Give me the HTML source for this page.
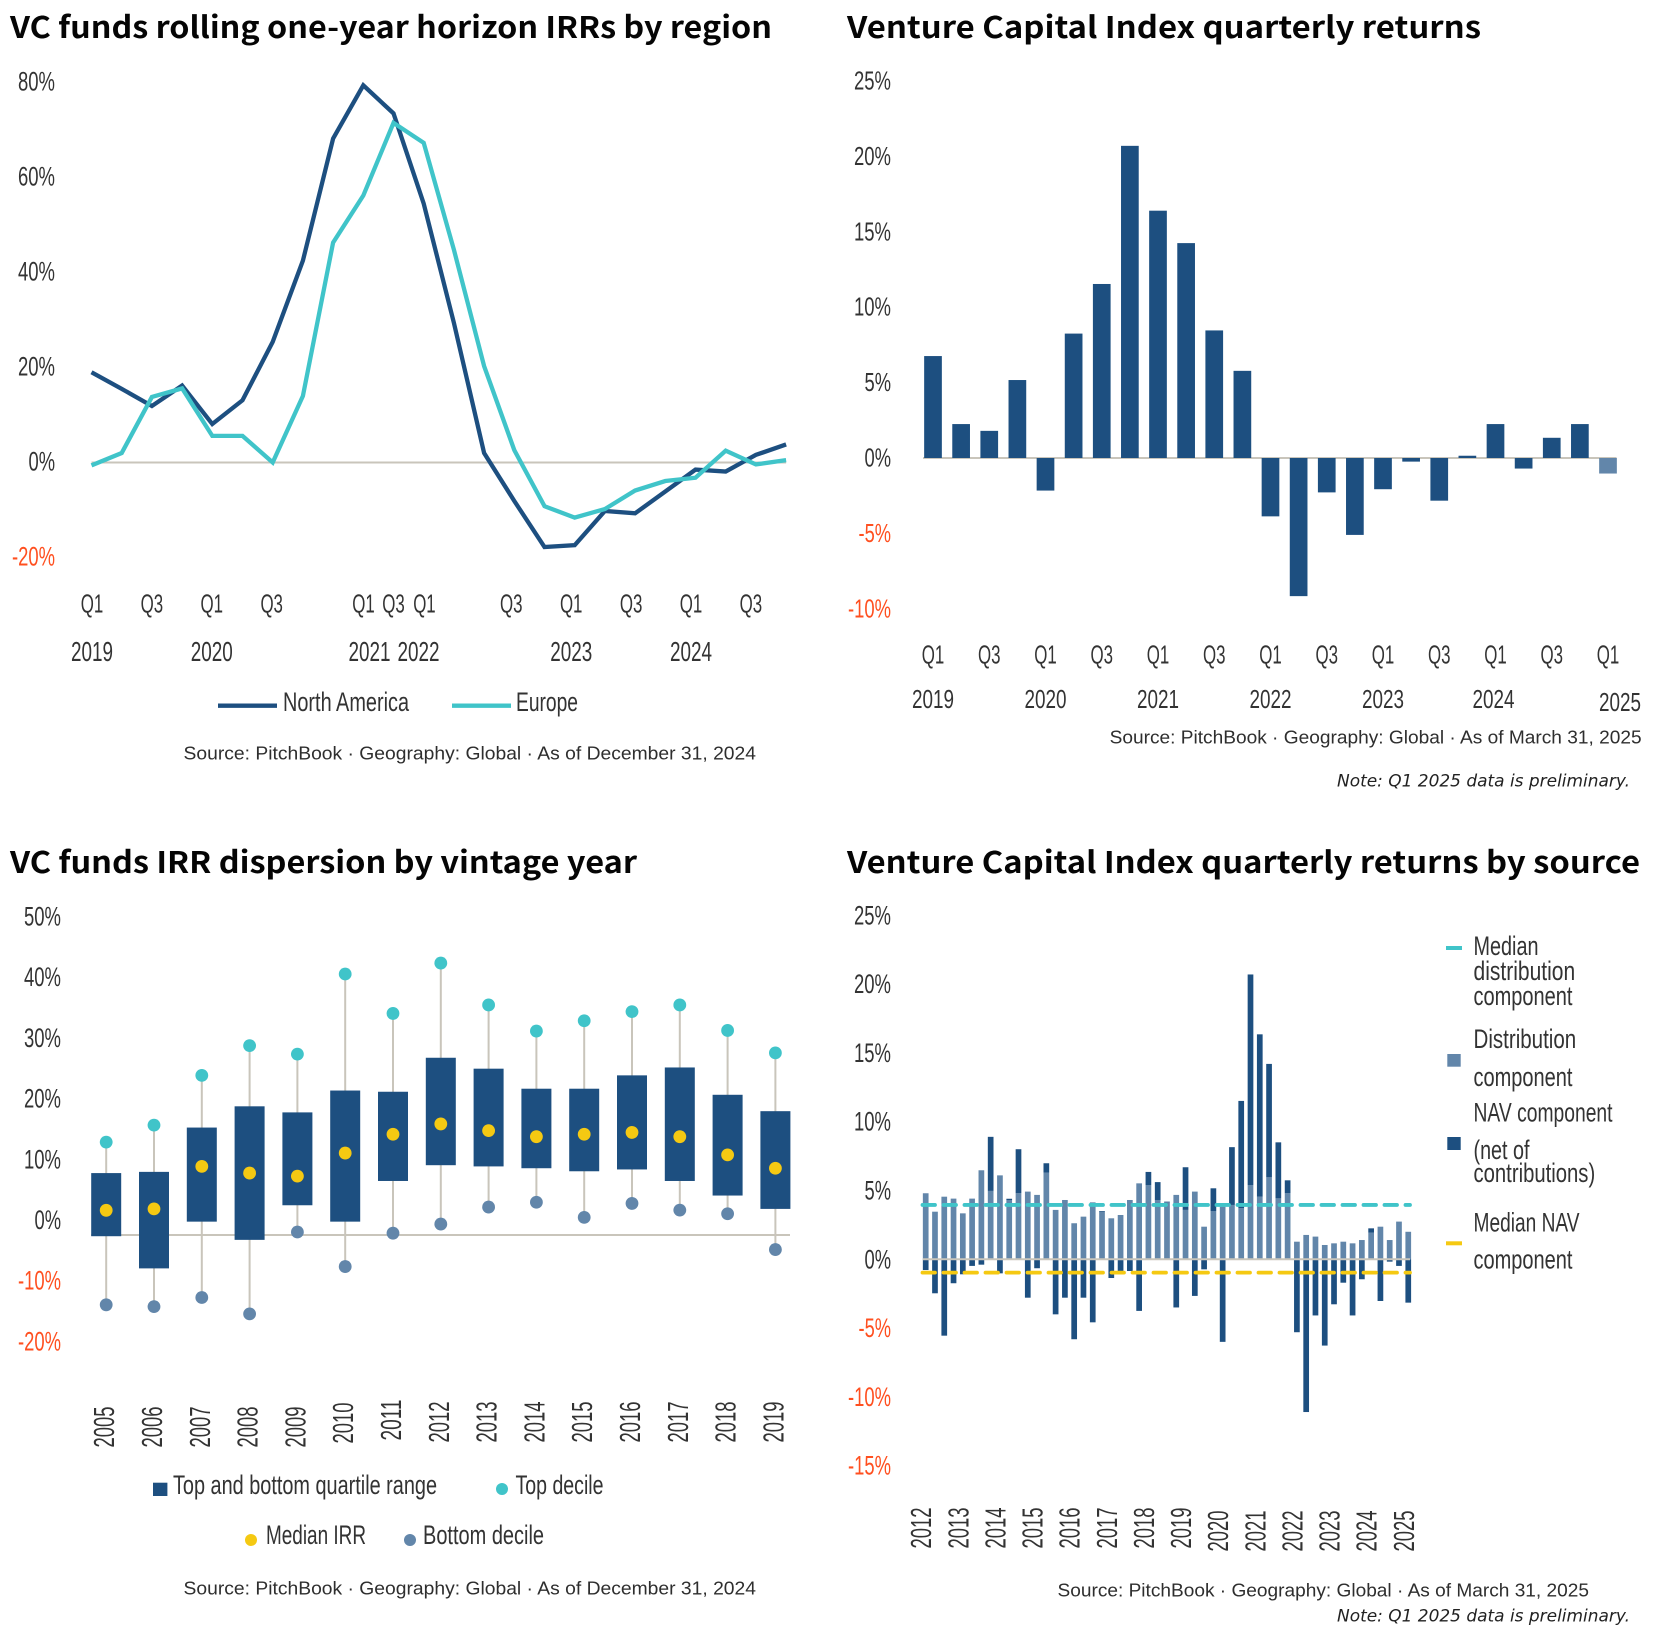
<!DOCTYPE html>
<html lang="en">
<head>
<meta charset="utf-8">
<title>Venture capital fund returns</title>
<style>
html,body{margin:0;padding:0;background:#fff;}
svg{display:block;}
.t{font-family:"Noto Sans CJK JP","Liberation Sans",sans-serif;font-weight:700;font-size:30px;fill:#050505;}
.n{font-family:"Liberation Sans Narrow","Liberation Sans",sans-serif;font-size:26.5px;fill:#333;}
.s{font-family:"Liberation Sans",sans-serif;font-size:18px;fill:#2e2e2e;}
.i{font-family:"DejaVu Sans",sans-serif;font-style:italic;font-size:16.5px;fill:#222;}
</style>
</head>
<body>
<svg id="root" xmlns="http://www.w3.org/2000/svg" width="1656" height="1638" viewBox="0 0 1656 1638">
<rect width="1656" height="1638" fill="#fff"/>

<g id="c1">
<text class="t" x="10" y="38" textLength="762" lengthAdjust="spacingAndGlyphs">VC funds rolling one-year horizon IRRs by region</text>
<line x1="218" x2="277" y1="705.7" y2="705.7" stroke="#1d4f80" stroke-width="4.300"/>
<text class="n" x="283" y="711" textLength="126" lengthAdjust="spacingAndGlyphs">North America</text>
<line x1="452" x2="511" y1="705.7" y2="705.7" stroke="#40c4c9" stroke-width="4.300"/>
<text class="n" x="516" y="711" textLength="62" lengthAdjust="spacingAndGlyphs">Europe</text>
<text class="s" x="183.500" y="759.500" textLength="572.500" lengthAdjust="spacingAndGlyphs">Source: PitchBook · Geography: Global · As of December 31, 2024</text>
</g>

<g id="c2">
<text class="t" x="847" y="38" textLength="634" lengthAdjust="spacingAndGlyphs">Venture Capital Index quarterly returns</text>
<text class="s" x="1109.600" y="743.500" textLength="532" lengthAdjust="spacingAndGlyphs">Source: PitchBook · Geography: Global · As of March 31, 2025</text>
<text class="i" x="1337" y="786.500" textLength="293" lengthAdjust="spacingAndGlyphs">Note: Q1 2025 data is preliminary.</text>
</g>

<g id="c3">
<text class="t" x="10" y="873" textLength="627" lengthAdjust="spacingAndGlyphs">VC funds IRR dispersion by vintage year</text>
<rect x="153" y="1482.700" width="14.400" height="13.300" fill="#1d4f80"/>
<text class="n" x="173" y="1494" textLength="264" lengthAdjust="spacingAndGlyphs">Top and bottom quartile range</text>
<circle cx="502" cy="1489" r="6" fill="#40c4c9"/>
<text class="n" x="515.500" y="1494" textLength="88" lengthAdjust="spacingAndGlyphs">Top decile</text>
<circle cx="251" cy="1540" r="6" fill="#f5c912"/>
<text class="n" x="266" y="1544" textLength="100" lengthAdjust="spacingAndGlyphs">Median IRR</text>
<circle cx="410" cy="1540" r="6" fill="#6286aa"/>
<text class="n" x="423" y="1544" textLength="121" lengthAdjust="spacingAndGlyphs">Bottom decile</text>
<text class="s" x="183.500" y="1594.500" textLength="572.500" lengthAdjust="spacingAndGlyphs">Source: PitchBook · Geography: Global · As of December 31, 2024</text>
</g>

<g id="c4">
<text class="t" x="847" y="873" textLength="793" lengthAdjust="spacingAndGlyphs">Venture Capital Index quarterly returns by source</text>
<g>
<line x1="1446" x2="1462" y1="948" y2="948" stroke="#40c4c9" stroke-width="4"/>
<text class="n" x="1473.500" y="955" textLength="65" lengthAdjust="spacingAndGlyphs">Median</text>
<text class="n" x="1473.500" y="980" textLength="101.700" lengthAdjust="spacingAndGlyphs">distribution</text>
<text class="n" x="1473.500" y="1005" textLength="99" lengthAdjust="spacingAndGlyphs">component</text>
<rect x="1447.300" y="1054" width="13.400" height="12.700" fill="#6286aa"/>
<text class="n" x="1473.500" y="1047.800" textLength="102.700" lengthAdjust="spacingAndGlyphs">Distribution</text>
<text class="n" x="1473.500" y="1086" textLength="99" lengthAdjust="spacingAndGlyphs">component</text>
<rect x="1447.300" y="1137" width="13.400" height="13" fill="#1d4f80"/>
<text class="n" x="1473.500" y="1121.700" textLength="139" lengthAdjust="spacingAndGlyphs">NAV component</text>
<text class="n" x="1473.500" y="1159" textLength="56" lengthAdjust="spacingAndGlyphs">(net of</text>
<text class="n" x="1473.500" y="1182" textLength="121.700" lengthAdjust="spacingAndGlyphs">contributions)</text>
<line x1="1446" x2="1462" y1="1243.300" y2="1243.300" stroke="#f5c912" stroke-width="4"/>
<text class="n" x="1473.500" y="1231.700" textLength="106" lengthAdjust="spacingAndGlyphs">Median NAV</text>
<text class="n" x="1473.500" y="1268.300" textLength="99" lengthAdjust="spacingAndGlyphs">component</text>
</g>
<text class="s" x="1057.500" y="1596.500" textLength="531.500" lengthAdjust="spacingAndGlyphs">Source: PitchBook · Geography: Global · As of March 31, 2025</text>
<text class="i" x="1337" y="1621.500" textLength="293" lengthAdjust="spacingAndGlyphs">Note: Q1 2025 data is preliminary.</text>
</g>
</svg>

<script>
// ---------- Chart 1: rolling one-year IRRs ----------
const regionNorthAmerica = [19,15.5,11.9,16.2,8.1,13.1,25.4,42.5,68.2,79.4,73.5,54.5,29.4,2,-8.1,-17.8,-17.4,-10.2,-10.7,-6.1,-1.5,-1.9,1.6,3.8];
const regionEurope = [-0.6,2,13.8,15.6,5.6,5.6,0,14,46.3,56.2,71.5,67.3,44.8,20.3,2.6,-9.2,-11.6,-9.8,-5.9,-3.9,-3.2,2.5,-0.4,0.5];
const regionYTicks = [80,60,40,20,0,-20];
const regionQuarterTicks = ['Q1','Q3','Q1','Q3','Q1','Q3','Q1','Q3','Q1','Q3','Q1','Q3'];
const regionQuarterIndex = [0,2,4,6,9,10,11,14,16,18,20,22];
const regionYearTicks = ['2019','2020','2021','2022','2023','2024'];
const regionYearIndex = [0,4,9,11,16,20];

// ---------- Chart 2: quarterly returns ----------
const quarterlyReturns = [6.76,2.25,1.8,5.17,-2.16,8.25,11.54,20.7,16.4,14.25,8.46,5.78,-3.87,-9.16,-2.28,-5.1,-2.07,-0.24,-2.83,0.15,2.25,-0.7,1.34,2.25,-1.03];
const quarterlyYTicks = [25,20,15,10,5,0,-5,-10];
const quarterlyQuarterTicks = ['Q1','Q3','Q1','Q3','Q1','Q3','Q1','Q3','Q1','Q3','Q1','Q3','Q1'];
const quarterlyYearTicks = ['2019','2020','2021','2022','2023','2024','2025'];

// ---------- Chart 3: IRR dispersion ----------
const vintageYears = ['2005','2006','2007','2008','2009','2010','2011','2012','2013','2014','2015','2016','2017','2018','2019'];
const topDecile = [15.3,18.1,26.3,31.2,29.8,43,36.5,44.8,37.9,33.6,35.3,36.8,37.9,33.7,30];
const topQuartile = [10.2,10.4,17.7,21.2,20.2,23.8,23.6,29.2,27.4,24.1,24.1,26.3,27.6,23.1,20.4];
const medianIrr = [4.07,4.3,11.3,10.2,9.7,13.5,16.6,18.3,17.2,16.2,16.6,16.9,16.2,13.2,11];
const bottomQuartile = [-0.2,-5.5,2.2,-0.8,4.9,2.2,8.9,11.5,11.3,11,10.5,10.8,8.9,6.5,4.3];
const bottomDecile = [-11.5,-11.8,-10.3,-13,0.5,-5.2,0.3,1.8,4.6,5.4,2.9,5.2,4.1,3.5,-2.4];
const dispersionYTicks = [50,40,30,20,10,0,-10,-20];

// ---------- Chart 4: returns by source ----------
const distributionComponent = [4.8,3.46,4.55,4.41,3.34,4.41,6.47,4.97,6.1,4.31,4.8,4.92,4.68,6.3,3.59,4.31,2.62,3.1,4.14,3.46,2.98,3.22,4.31,5.52,5.4,4.31,4.14,4.68,3.59,4.92,2.37,3.51,3.83,3.95,3.71,5.4,4.55,5.96,4.43,4.8,1.28,1.77,1.65,1.04,1.16,1.28,1.16,1.4,1.94,2.37,1.4,2.74,2];
const navComponent = [-0.78,-2.47,-5.55,-1.74,-1.09,-0.48,-0.39,3.93,-1.02,0.09,3.2,-2.79,-0.65,0.68,-4,-2.79,-5.81,-2.79,-4.58,0.05,-1.36,-0.87,-0.85,-3.75,0.95,1.3,0.05,-3.5,3.1,-2.66,-0.73,1.65,-6,4.2,7.8,15.3,11.8,8.24,4.07,0.94,-5.3,-11.1,-4.08,-6.27,-3.27,-1.7,-4.08,-1.45,0.31,-3.03,-0.17,-0.48,-3.15];
const medianDistribution = 3.95;
const medianNav = -0.97;
const sourceYTicks = [25,20,15,10,5,0,-5,-10,-15];
const sourceYears = ['2012','2013','2014','2015','2016','2017','2018','2019','2020','2021','2022','2023','2024','2025'];

// ---------- Drawing helpers ----------
const NS = 'http://www.w3.org/2000/svg';
const NAVY = '#1d4f80', TEAL = '#40c4c9', YELLOW = '#f5c912', STEEL = '#6286aa', ZERO = '#c9c5bb', RED = '#ff4f1f';
const C1 = document.getElementById('c1');
const C2 = document.getElementById('c2');
const C3 = document.getElementById('c3');
const C4 = document.getElementById('c4');

function make(parent, tag, attrs) {
  const el = document.createElementNS(NS, tag);
  for (const k in attrs) el.setAttribute(k, attrs[k]);
  parent.appendChild(el);
  return el;
}
function charWidth(s) {
  let w = 0;
  for (const ch of s) {
    w += ch === '%' ? 16 : ch === '-' ? 6 : ch === 'Q' ? 12 : 10.5;
  }
  return w;
}
function label(parent, str, x, y, anchor, fill, size) {
  const el = make(parent, 'text', {
    'class': 'n', x: x, y: y, 'text-anchor': anchor,
    textLength: charWidth(str), lengthAdjust: 'spacingAndGlyphs',
    style: 'fill:' + fill + ';font-size:' + size + 'px'
  });
  el.textContent = str;
  return el;
}
function rotatedLabel(parent, str, cx, cy) {
  const el = make(parent, 'text', {
    'class': 'n', x: cx + 10.5, y: cy, 'text-anchor': 'middle',
    textLength: 41, lengthAdjust: 'spacingAndGlyphs',
    transform: 'rotate(-90 ' + (cx + 10.5) + ' ' + cy + ')',
    style: 'font-size:29px'
  });
  el.textContent = str;
  return el;
}
function hBar(parent, cx, w, yA, yB, fill) {
  return make(parent, 'rect', {
    x: cx - w / 2, y: Math.min(yA, yB), width: w, height: Math.abs(yB - yA), fill: fill
  });
}
function tickColor(v) { return v < 0 ? RED : '#333'; }

// ---------- Chart 1 ----------
const y1 = v => 462.5 - v * 4.75;
const x1 = i => 91.5 + i * 30.2;
const x1Label = i => 92 + i * 29.95;
{
  const zero = make(C1, 'line', { x1: x1(0), x2: x1(23), y1: y1(0), y2: y1(0), stroke: ZERO, 'stroke-width': 2 });
  
  
  regionYTicks.forEach(v => {
    const el = label(C1, v + '%', 55, y1(v) + 8, 'end', tickColor(v), 26.5);
    
    
  });
  regionQuarterTicks.forEach((q, k) => {
    const i = regionQuarterIndex[k];
    const nudge = i === 9 || i === 10 ? 2 : i === 11 ? 3 : 0;
    const el = label(C1, q, x1Label(i) + nudge, 612.5, 'middle', '#333', 26);
    
    
  });
  regionYearTicks.forEach((yr, k) => {
    const i = regionYearIndex[k];
    const nudge = i === 9 ? 8 : i === 11 ? -3 : 0;
    const el = label(C1, yr, x1Label(i) + nudge, 661, 'middle', '#333', 28);
    
    
  });
  const pts = arr => arr.map((v, i) => x1(i) + ',' + y1(v)).join(' ');
  const na = make(C1, 'polyline', { points: pts(regionNorthAmerica), fill: 'none', stroke: NAVY, 'stroke-width': 4.3, 'stroke-linejoin': 'miter' });
  
  
  const eu = make(C1, 'polyline', { points: pts(regionEurope), fill: 'none', stroke: TEAL, 'stroke-width': 4.3, 'stroke-linejoin': 'miter' });
  
  
}

// ---------- Chart 2 ----------
const y2 = v => 458 - v * 15.08;
const x2 = i => 933 + i * 28.125;
{
  const zero = make(C2, 'line', { x1: 923, x2: 1616.5, y1: y2(0), y2: y2(0), stroke: ZERO, 'stroke-width': 2 });
  
  
  quarterlyYTicks.forEach(v => {
    const el = label(C2, v + '%', 891, y2(v) + 8.5, 'end', tickColor(v), 25.5);
    
    
  });
  quarterlyReturns.forEach((v, i) => {
    const el = hBar(C2, x2(i), 17.7, y2(0), y2(v), i === quarterlyReturns.length - 1 ? STEEL : NAVY);
    
    
  });
  quarterlyQuarterTicks.forEach((q, k) => {
    const el = label(C2, q, x2(k * 2), 663.5, 'middle', '#333', 26);
    
    
  });
  quarterlyYearTicks.forEach((yr, k) => {
    const nudgeX = k === 5 ? -2 : k === 6 ? 12 : 0;
    const el = label(C2, yr, x2(k * 4) + nudgeX, k === 6 ? 711 : 708, 'middle', '#333', 26);
    
    
  });
}

// ---------- Chart 3 ----------
const y3 = v => 1235 - v * 6.07;
const y3Label = v => 1220 - v * 6.07;
const x3 = i => 106.2 + i * 47.8;
{
  const zero = make(C3, 'line', { x1: 91, x2: 790, y1: y3(0), y2: y3(0), stroke: ZERO, 'stroke-width': 2 });
  
  
  dispersionYTicks.forEach(v => {
    const el = label(C3, v + '%', 61, y3Label(v) + 9, 'end', tickColor(v), 26.5);
    
    
  });
  vintageYears.forEach((yr, i) => {
    const whisker = make(C3, 'line', { x1: x3(i), x2: x3(i), y1: y3(topDecile[i]), y2: y3(bottomDecile[i]), stroke: ZERO, 'stroke-width': 2 });
    
    
    const box = hBar(C3, x3(i), 30, y3(topQuartile[i]), y3(bottomQuartile[i]), NAVY);
    
    
    const top = make(C3, 'circle', { cx: x3(i), cy: y3(topDecile[i]), r: 6.4, fill: TEAL });
    
    
    const med = make(C3, 'circle', { cx: x3(i), cy: y3(medianIrr[i]), r: 6.4, fill: YELLOW });
    
    
    const bot = make(C3, 'circle', { cx: x3(i), cy: y3(bottomDecile[i]), r: 6.4, fill: STEEL });
    
    
    const cy = i < 5 ? 1427 : i === 5 ? 1423 : i === 6 ? 1420 : 1422;
    const tick = rotatedLabel(C3, yr, x3(i) - 2.5, cy);
    
    
  });
}

// ---------- Chart 4 ----------
const y4 = v => 1259.3 - v * 13.76;
const x4 = i => 925.7 + i * 9.28;
{
  sourceYTicks.forEach(v => {
    const el = label(C4, v + '%', 891, y4(v) + 9, 'end', tickColor(v), 26.5);
    
    
  });
  distributionComponent.forEach((d, i) => {
    const n = navComponent[i];
    const dist = hBar(C4, x4(i), 5.7, y4(0), y4(d), STEEL);
    
    
    const nav = n >= 0 ? hBar(C4, x4(i), 5.7, y4(d), y4(d + n), NAVY) : hBar(C4, x4(i), 5.7, y4(0), y4(n), NAVY);
    
    
  });
  const zero = make(C4, 'line', { x1: 922.7, x2: 1410, y1: y4(0), y2: y4(0), stroke: ZERO, 'stroke-width': 2 });
  
  
  const mDist = make(C4, 'line', { x1: 922.5, x2: 1410, y1: y4(medianDistribution), y2: y4(medianDistribution), stroke: TEAL, 'stroke-width': 3.8, 'stroke-linecap': 'round', 'stroke-dasharray': '12.500 8.500' });
  
  
  const mNav = make(C4, 'line', { x1: 922.5, x2: 1410, y1: y4(medianNav), y2: y4(medianNav), stroke: YELLOW, 'stroke-width': 3.8, 'stroke-linecap': 'round', 'stroke-dasharray': '12.500 8.500' });
  
  
  sourceYears.forEach((yr, k) => {
    const tick = rotatedLabel(C4, yr, x4(k * 4) - 5, k < 8 ? 1528 : 1531);
    
    
  });
}
</script>
</body>
</html>
